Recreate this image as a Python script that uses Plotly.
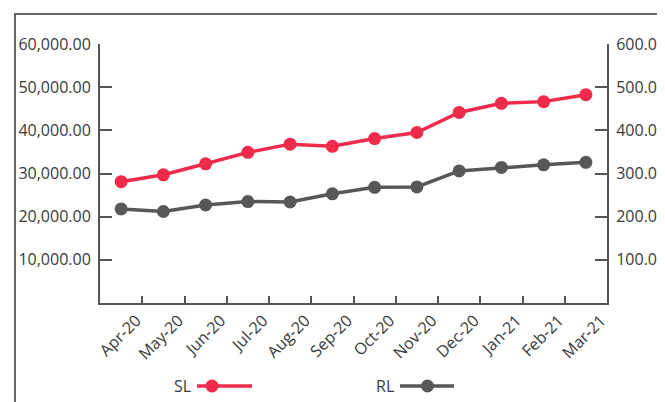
import plotly.graph_objects as go

# Data
months = ['Apr-20', 'May-20', 'Jun-20', 'Jul-20', 'Aug-20', 'Sep-20',
          'Oct-20', 'Nov-20', 'Dec-20', 'Jan-21', 'Feb-21', 'Mar-21']
sl_values = [28100, 29700, 32250, 34900, 36800, 36300,
             38100, 39500, 44150, 46250, 46650, 48250]
rl_values = [218, 212, 227, 235, 234, 253, 268, 269, 306, 314, 320, 326]

left_ticks = [10000, 20000, 30000, 40000, 50000, 60000]
right_ticks = [100, 200, 300, 400, 500, 600]

RED = '#EE2B4B'
GREY = '#575757'
TEXT = '#3a3a3a'
AXIS = '#555555'
FONT = 'Open Sans'

fig = go.Figure()

fig.add_trace(go.Scatter(
    x=months, y=sl_values, name='SL', mode='lines+markers',
    line=dict(color=RED, width=3.5), marker=dict(color=RED, size=13),
    showlegend=False
))
fig.add_trace(go.Scatter(
    x=months, y=rl_values, name='RL', mode='lines+markers',
    line=dict(color=GREY, width=3.5), marker=dict(color=GREY, size=13),
    yaxis='y2', showlegend=False
))
# empty trace so the label axis gets drawn
fig.add_trace(go.Scatter(x=[], y=[], xaxis='x2', showlegend=False, hoverinfo='skip'))

# page body keeps an 8px margin; the figure runs past the window on the right/bottom
fig.update_layout(
    width=665, height=402,
    margin=dict(l=92, r=66, t=36, b=107, autoexpand=False),
    paper_bgcolor='white', plot_bgcolor='white',
    font=dict(family=FONT, size=16, color=TEXT),
    xaxis=dict(
        type='category', range=[-0.5, len(months) - 0.5],
        showticklabels=False, ticks='', showgrid=False,
        showline=False, zeroline=False, automargin=False
    ),
    # labels sit on the category boundaries, right of each point
    xaxis2=dict(
        overlaying='x', anchor='y', side='bottom',
        range=[0, len(months)], tickmode='array',
        tickvals=list(range(1, len(months) + 1)), ticktext=months,
        tickangle=-45, ticks='inside', ticklen=7, tickcolor=AXIS, tickwidth=1.5,
        showline=True, linecolor=AXIS, linewidth=2, automargin=False,
        ticklabelshift=-6,
        showgrid=False, zeroline=False, tickfont=dict(size=16, color=TEXT)
    ),
    yaxis=dict(
        range=[0, 60000], tickmode='array', tickvals=left_ticks,
        tickformat=',.2f', ticks='inside', ticklen=12, tickcolor=AXIS, tickwidth=1.5,
        showline=True, linecolor=AXIS, linewidth=2, automargin=False,
        showgrid=False, zeroline=False, ticklabelstandoff=4
    ),
    yaxis2=dict(
        range=[0, 600], overlaying='y', side='right', anchor='x',
        tickmode='array', tickvals=right_ticks, tickformat=',.2f',
        ticks='inside', ticklen=12, tickcolor=AXIS, tickwidth=1.5,
        showline=True, linecolor=AXIS, linewidth=2, automargin=False,
        showgrid=False, zeroline=False, ticklabelstandoff=4
    ),
)

# outer frame (runs off the right and bottom edges like the reference)
fig.add_shape(type='rect', xref='paper', yref='paper',
              x0=-0.1677, x1=1.2, y0=-0.5, y1=1.116,
              line=dict(color='#333333', width=1.5), layer='below')

# legend drawn below the axis, label on the left of each glyph
legend_items = [('SL', RED, 0.1834, 0.1913, 0.2998, 0.2209),
                ('RL', GREY, 0.5838, 0.5917, 0.6982, 0.6460)]
leg_y = -0.3205
for name, color, tx, lx0, lx1, mx in legend_items:
    fig.add_annotation(text=name, xref='paper', yref='paper', x=tx, y=leg_y,
                       xanchor='right', yanchor='middle', showarrow=False,
                       font=dict(size=16, color=TEXT))
    fig.add_shape(type='line', xref='paper', yref='paper',
                  x0=lx0, x1=lx1, y0=leg_y, y1=leg_y,
                  line=dict(color=color, width=3.5))
    fig.add_shape(type='circle', xref='paper', yref='paper',
                  xsizemode='pixel', ysizemode='pixel',
                  xanchor=mx, yanchor=leg_y, x0=-6.5, x1=6.5, y0=-6.5, y1=6.5,
                  fillcolor=color, line=dict(color=color, width=0))

fig.write_html("out.html")
